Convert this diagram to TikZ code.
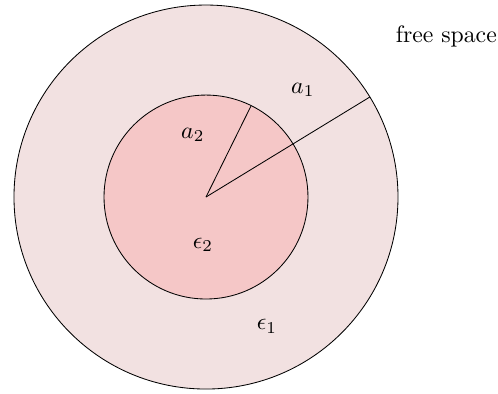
\documentclass[tikz,border=0pt]{standalone}
\usepackage{xcolor}
\definecolor{cOuter}{HTML}{F2E1E1}
\definecolor{cInner}{HTML}{F5C7C7}
\usepackage{tikz}
\usetikzlibrary{positioning,calc}
\tikzset{
  region/.style={draw=black,thin},
  radius-line/.style={draw=black,thin},
  lbl/.style={inner sep=1pt,scale=1.13},
}
\begin{document}
\begin{tikzpicture}
  \useasboundingbox (-3.446,-3.279) rectangle (4.885,3.296);
  \coordinate (o) at (0,0);
  % dielectric layers
  \fill[cOuter] (o) circle[radius=3.212cm];
  \draw[region] (o) circle[radius=3.212cm];
  \fill[cInner] (o) circle[radius=1.706cm];
  \draw[region] (o) circle[radius=1.706cm];
  \coordinate (r1) at (31.4:3.212cm);
  \coordinate (r2) at (63.7:1.706cm);
  \draw[radius-line] (o) -- (r1);
  \draw[radius-line] (o) -- (r2);
  \node[lbl] (a1) at (1.62,1.79) {$a_1$};
  \node[lbl] (a2) at (-0.22,1.04) {$a_2$};
  \node[lbl] (eps2) at (-0.05,-0.80) {$\epsilon_2$};
  \node[lbl] (eps1) at (1.02,-2.16) {$\epsilon_1$};
  \node[lbl] (free) at (4.02,2.68) {free space};
\end{tikzpicture}
\end{document}
